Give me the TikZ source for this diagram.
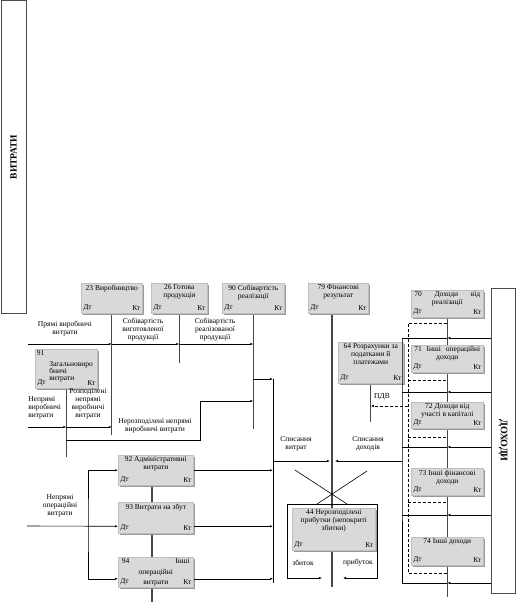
\documentclass[tikz,border=0pt]{standalone}
\usepackage{fontspec}
\setmainfont{Liberation Serif}
\usetikzlibrary{arrows.meta,shadows,backgrounds}

\definecolor{accgray}{RGB}{217,217,217}

\tikzset{
  acc/.style 2 args={draw=gray!50, fill=accgray,
    drop shadow={shadow xshift=1.5pt,shadow yshift=-1.5pt,fill=gray!80,opacity=1},
    anchor=north west, inner sep=0pt, minimum width=#1pt, minimum height=#2pt,
    label={[dk,anchor=south west]south west:Дт},
    label={[dk,anchor=south east]south east:Кт}},
  ttl/.style={anchor=north, align=center, inner sep=1.5pt},
  dk/.style={inner xsep=2pt, inner ysep=2.5pt},
  tline/.style={draw=gray!55!black, line width=1.3pt},
  dsh/.style={dash pattern=on 3pt off 2pt, line width=0.8pt},
  txt/.style={align=center, inner sep=0pt},
  side/.style={draw=gray!60!black, line width=1pt, fill=white, inner sep=0pt},
}

\begin{document}
\begin{tikzpicture}[x=1pt,y=-1pt, font=\fontsize{7.5}{8}\selectfont,
    >={Latex[length=3pt,width=2.4pt]}, line width=0.6pt]
    \useasboundingbox (0,0) rectangle (516,602);

    % side boxes
    \node[side, rotate=90, minimum width=312pt, minimum height=25pt,
      font=\bfseries\fontsize{9.5}{10}\selectfont] (vyt) at (13.5,157) {ВИТРАТИ};
    \node[side, rotate=-90, minimum width=305pt, minimum height=24pt,
      font=\bfseries\fontsize{10}{11}\selectfont] (dox) at (503,440.5) {ДОХОДИ};

    % Define the accounts
    \node[acc={61}{30}, label={[ttl]north:23 Виробництво}] (b23) at (81,283) {};
    \node[acc={56}{30}, label={[ttl]north:26 Готова\\продукція}] (b26) at (151,283) {};
    \node[acc={62}{30}, label={[ttl]north:90 Собівартість\\реалізації}] (b90) at (222,283) {};
    \node[acc={60}{30}, label={[ttl]north:79 Фінансові\\результат}] (b79) at (308,283) {};
    \node[acc={65}{41}, label={[ttl]north:64 Розрахунки за\\податками й\\платежами}] (b64) at (338,342) {};
    \node[acc={62}{39}, label={[ttl,anchor=north west]north west:91}] (b91) at (35,349) {};
    \node[txt, align=left, anchor=west, font=\fontsize{7.5}{7}\selectfont] (t91) at (49,372) {Загальновиро\\бничі\\витрати};

    \node[acc={72}{27}, label={[ttl]north:\makebox[66pt]{70\hfill Доходи\hfill від}\\реалізації}] (b70) at (411,290) {};
    \node[acc={72}{27}, label={[ttl]north:\makebox[66pt]{71\hfill Інші\hfill операційні}\\доходи}] (b71) at (411,345) {};
    \node[acc={72}{26}, label={[ttl]north:72 Доходи від\\участі в капіталі}] (b72) at (411,402) {};
    \node[acc={72}{27}, label={[ttl]north:73 Інші фінансові\\доходи}] (b73) at (411,468) {};
    \node[acc={72}{28}, label={[ttl]north:74 Інші доходи}] (b74) at (411,537) {};

    \node[acc={75}{30}, label={[ttl]north:92 Адміністративні\\витрати}] (b92) at (118,455) {};
    \node[acc={75}{31}, label={[ttl]north:93 Витрати на збут}] (b93) at (118,502) {};
    \node[acc={75}{30}, label={[ttl,font=\fontsize{7.5}{10.5}\selectfont]north:\makebox[68pt]{94\hfill Інші}\\операційні\\витрати}] (b94) at (118,557) {};

    % 44 with its frame
    \coordinate (f1) at (287,504);
    \coordinate (f2) at (377,578);
    \draw[<->] (322,578) -| (f1) -| (f2) -- (343,578);
    \node[acc={83}{42}, label={[ttl]north:44 Нерозподілені\\прибутки (непокриті\\збитки)}] (b44) at (292,508) {};

    % account lines
    \begin{scope}[on background layer]
    \draw[tline] (b23.south) -- (b23.south |- 0,435);
    \draw[tline] (b26.south) -- (b26.south |- 0,363);
    \draw[tline] (b90.south) -- (b90.south |- 0,429);
    \draw[tline] (332,313) -- (332,587);
    \draw[tline] (b64.south) -- (b64.south |- 0,422);
    \draw[tline] (b91.south) -- (b91.south |- 0,457);
    \draw[tline] (b70.south) -- (b70.south |- 0,597);
    \draw[tline] (152,485) -- (152,602);
    \end{scope}

    % Labels
    \node[txt] (lpv) at (65,329) {Прямі виробничі\\витрати};
    \node[txt] (lsv) at (143,330) {Собівартість\\виготовленої\\продукції};
    \node[txt] (lsr) at (215,330) {Собівартість\\реалізованої\\продукції};
    \node[txt, align=left, anchor=west] (lnv) at (28,408) {Непрямі\\виробничі\\витрати};
    \node[txt] (lrn) at (88,404) {Розподілені\\непрямі\\виробничі\\витрати};
    \node[txt] (lnn) at (155,426) {Нерозподілені непрямі\\виробничі витрати};
    \node[txt] (lno) at (60,506) {Непрямі\\операційні\\витрати};
    \node[txt] (lsvy) at (296,444) {Списання\\витрат};
    \node[txt] (lsd) at (368,444) {Списання\\доходів};
    \node[txt] (lpdv) at (382,397) {ПДВ};
    \node[txt] (lzb) at (303,563) {збиток};
    \node[txt] (lpr) at (358,563) {прибуток};

    % Draw the edges
    \coordinate (pv) at (28,344);
    \coordinate (nv) at (28,427);
    \coordinate (no) at (27,526);
    \coordinate (sp1) at (273,379);
    \coordinate (sp2) at (273,583);
    \coordinate (sv) at (273,461);
    \coordinate (sd) at (402,461);

    \draw[->] (pv) -- (pv -| b23.south);
    \draw[->] (pv -| b23.south) -- (pv -| b26.south);
    \draw[->] (pv -| b26.south) -- (pv -| b90.south);

    \draw[->] (nv) -- (nv -| b91.south);
    \draw[->] (nv -| b91.south) -- (nv -| b23.south);
    \draw[->] (b91.south |- 0,440) -- (200,440) |- (b90.south |- 0,401);

    \draw[->] (b90.south |- sp1) -- (sp1);
    \draw (sp1) -- (sp2);

    \draw[->] (b92.east) -- (b92.east -| sp1);
    \draw[->] ([yshift=-8.5pt]b93.east) -- ([yshift=-8.5pt]b93.east -| sp1);
    \draw[->] ([yshift=-6.5pt]b94.east) -- ([yshift=-6.5pt]b94.east -| sp1);

    \draw[->] (no) -- ([yshift=-8.5pt]b93.west);
    \draw[<->] ([yshift=-6.5pt]b94.west) -| (88,526) |- (b92.west);

    \draw[->] (sv) -- (330,461);
    \draw[->] (sd) -- (335,461);

    \draw (295,470) -- (347,504);
    \draw (367,471) -- (317,504);

    % incomes side
    \foreach \y in {338,392,447,515,583} {
      \draw[->] (dox.south |- 0,\y) -- (b70.south |- 0,\y);
      \draw (b70.south |- 0,\y) -- (402,\y);
    }
    \draw (402,338) -- (sd) -- (402,583);

    \draw[dsh] (b70.south |- 0,323) -| (408,573) -- (b70.south |- 0,573);
    \foreach \y in {380,437,502}
      \draw[dsh] (408,\y) -- (b70.south |- 0,\y);
    \draw[dsh,->] (408,406) -- (b64.south |- 0,406);

\end{tikzpicture}
\end{document}
